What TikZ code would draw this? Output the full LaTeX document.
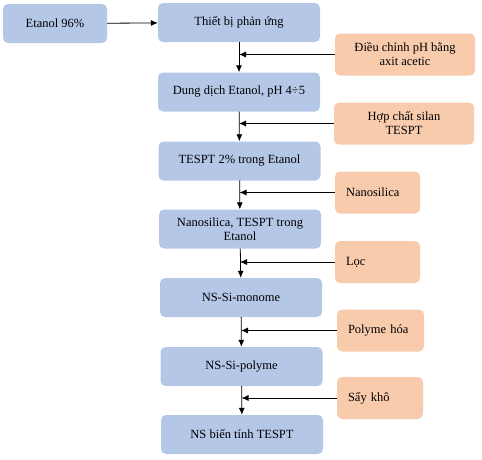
\documentclass[tikz,border=0pt]{standalone}
\usepackage{fontspec}
\setmainfont{Liberation Serif}
\usetikzlibrary{arrows.meta}
\definecolor{boxblue}{RGB}{180,199,231}
\definecolor{boxorange}{RGB}{248,203,173}

\begin{document}
\begin{tikzpicture}[x=1pt,y=-1pt,
    font=\rmfamily\fontsize{12.5}{14}\selectfont,
    step box/.style={fill=boxblue, rounded corners=5pt, minimum width=162pt, minimum height=39pt, align=center, inner sep=2pt},
    add box/.style={fill=boxorange, rounded corners=5pt, minimum height=42pt, inner sep=2pt},
    flow/.style={-{Latex[length=7pt,width=6pt]}, line width=0.8pt}]
    \useasboundingbox (0,0) rectangle (482,459);

    % main line
    \node[step box, minimum width=104pt] (etanol) at (55,23.5) {Etanol 96\%};
    \node[step box] (tb) at (239,22.5) {Thiết bị phản ứng};
    \node[step box] (dd) at (239,92) {Dung dịch Etanol, pH 4÷5};
    \node[step box] (tespt) at (239.5,161) {TESPT 2\% trong Etanol};
    \node[step box] (nano) at (240,229) {Nanosilica, TESPT trong\\Etanol};
    \node[step box] (mono) at (241,297.5) {NS-Si-monome};
    \node[step box] (poly) at (241.5,366.5) {NS-Si-polyme};
    \node[step box] (final) at (242,434.5) {NS biến tính TESPT};

    % side inputs
    \node[add box, minimum width=140pt, align=center] (ph) at (405,54.5) {Điều chỉnh pH bằng\\axit acetic};
    \node[add box, minimum width=140pt, align=center] (silan) at (404,123.5) {Hợp chất silan\\TESPT};
    \node[add box, text width=63pt, inner xsep=11pt, align=left] (nanosil) at (377.5,192.5) {Nanosilica};
    \node[add box, text width=63pt, inner xsep=11pt, align=left] (loc) at (377.5,262) {Lọc};
    \node[add box, text width=65pt, inner xsep=11pt, align=left] (polyme) at (380.5,330.5) {Polyme hóa};
    \node[add box, text width=64pt, inner xsep=11pt, align=left] (say) at (380,398) {Sấy khô};

    \draw[flow] (etanol) -- (tb);
    \draw[flow] (tb) -- (dd);
    \draw[flow] (dd) -- (tespt);
    \draw[flow] (tespt) -- (nano);
    \draw[flow] (nano) -- (mono);
    \draw[flow] (mono) -- (poly);
    \draw[flow] (poly) -- (final);

    % inputs join the vertical line
    \draw[flow] (ph.west) -- (ph.west -| tb.south);
    \draw[flow] (silan.west) -- (silan.west -| dd.south);
    \draw[flow] (nanosil.west) -- (nanosil.west -| tespt.south);
    \draw[flow] (loc.west) -- (loc.west -| nano.south);
    \draw[flow] (polyme.west) -- (polyme.west -| mono.south);
    \draw[flow] (say.west) -- (say.west -| poly.south);
\end{tikzpicture}
\end{document}
